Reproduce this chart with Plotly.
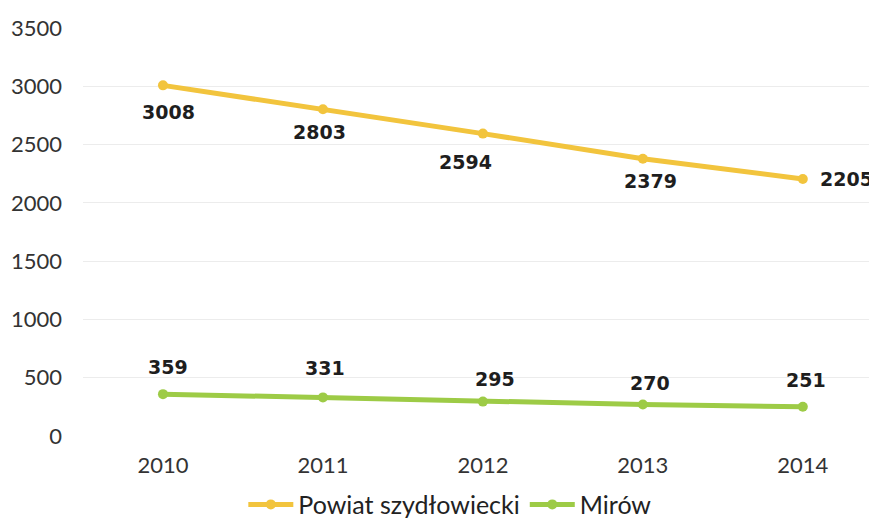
import plotly.graph_objects as go

years = ["2010", "2011", "2012", "2013", "2014"]
powiat = [3008, 2803, 2594, 2379, 2205]
mirow = [359, 331, 295, 270, 251]
y_ticks = [0, 500, 1000, 1500, 2000, 2500, 3000, 3500]

YELLOW = "#F2C43D"
GREEN = "#9DCB46"

# label offsets in pixels (style only)
powiat_off = [(6, -27), (-3, -23), (-17, -28), (8, -22), (44, 0)]
mirow_off = [(5, 27), (2, 29), (12, 23), (7, 22), (3, 27)]

fig = go.Figure()
fig.add_trace(go.Scatter(
    x=years, y=powiat, name="Powiat szydłowiecki", mode="lines+markers",
    line=dict(color=YELLOW, width=5), marker=dict(size=10, color=YELLOW),
))
fig.add_trace(go.Scatter(
    x=years, y=mirow, name="Mirów", mode="lines+markers",
    line=dict(color=GREEN, width=5), marker=dict(size=10, color=GREEN),
))

annotations = []
for vals, offs in ((powiat, powiat_off), (mirow, mirow_off)):
    for i, (v, (dx, dy)) in enumerate(zip(vals, offs)):
        annotations.append(dict(
            x=i, y=v, xref="x", yref="y", text=f"<b>{v}</b>", showarrow=False,
            xshift=dx, yshift=dy,
            font=dict(family="DejaVu Sans", size=19, color="#1e1e1e"),
        ))

fig.update_layout(
    width=869, height=512,
    margin=dict(l=75, r=7, t=20, b=84, autoexpand=False),
    paper_bgcolor="white", plot_bgcolor="white",
    showlegend=True,
    legend=dict(orientation="h", xref="container", yref="container",
                x=0.509, xanchor="center", y=0.03, yanchor="middle",
                font=dict(family="Lato", size=25, color="#222222"),
                itemwidth=45, tracegroupgap=0),
    annotations=annotations,
    font=dict(family="Lato", color="#333333"),
)
fig.update_xaxes(
    type="category", range=[-0.5, 4.42], showgrid=False, zeroline=False,
    showline=False, ticks="", tickfont=dict(family="Lato", size=22, color="#333333"),
    ticklabelstandoff=14,
)
fig.update_yaxes(
    range=[0, 3500], tickvals=y_ticks, showgrid=True, gridcolor="#ececec", gridwidth=1,
    zeroline=False, showline=False, ticks="",
    tickfont=dict(family="Lato", size=22, color="#333333"), ticklabelstandoff=20,
)

fig.write_html("out.html")
